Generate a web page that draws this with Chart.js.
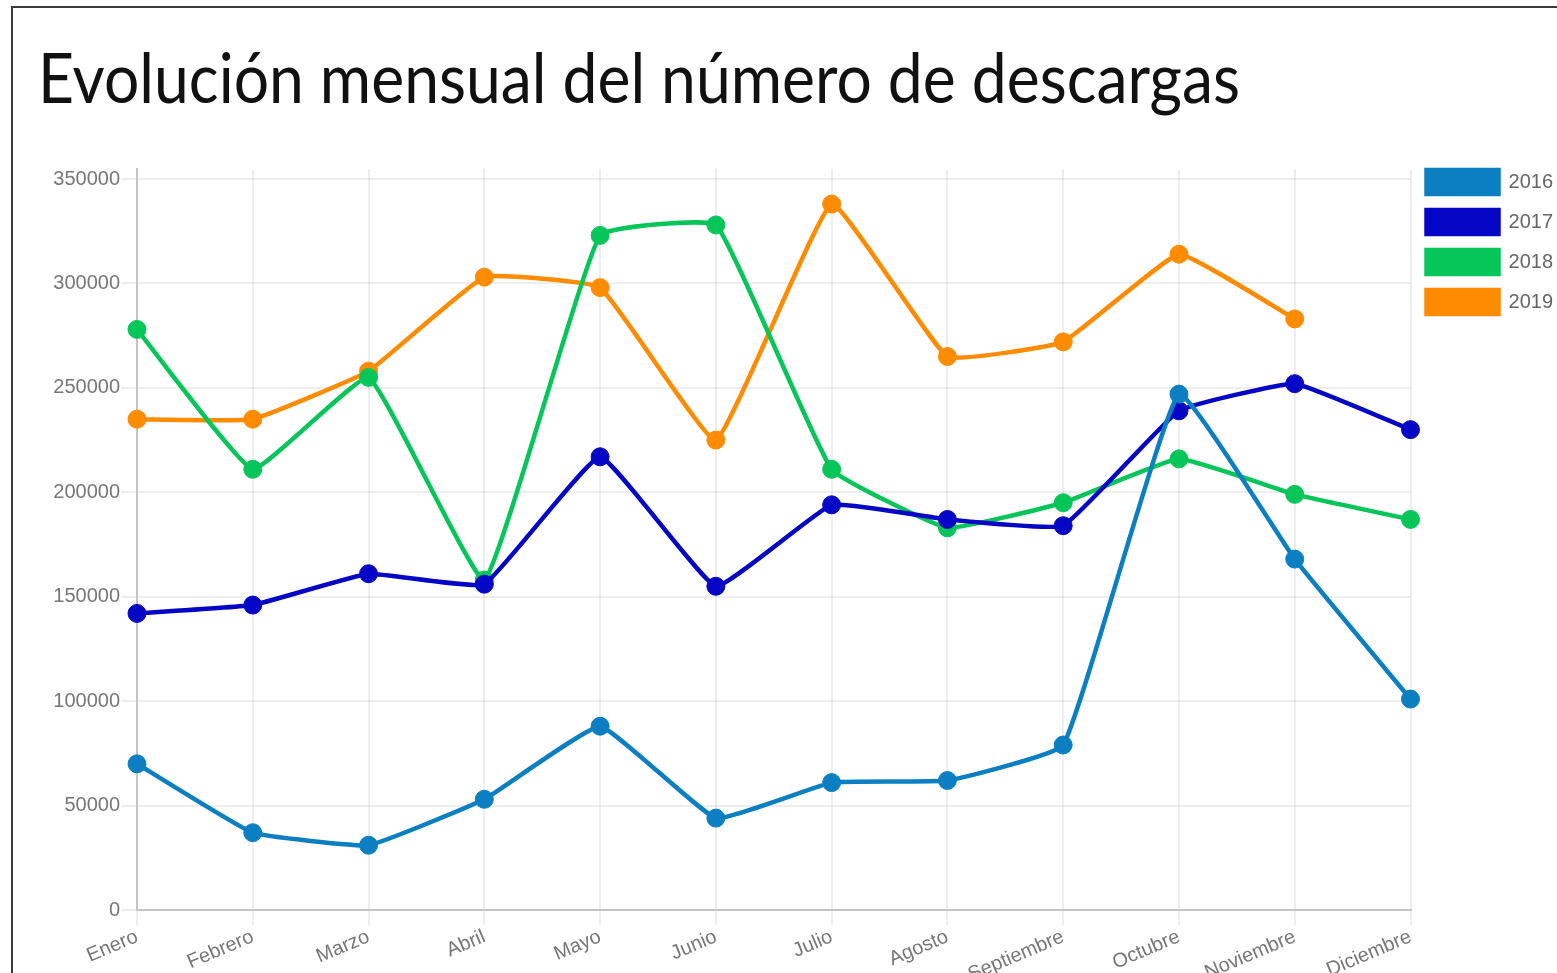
<!DOCTYPE html>
<html>
<head>
<meta charset="utf-8">
<script src="https://cdn.jsdelivr.net/npm/chart.js@4/dist/chart.umd.min.js"></script>
<style>
html,body{margin:0;padding:0;background:#fff;overflow:hidden;width:1557px;height:973px;}
#frame{position:absolute;left:11px;top:6px;width:1600px;height:1000px;border-top:2px solid #3a3a3a;border-left:2px solid #3a3a3a;}
#title{position:absolute;left:38px;top:34px;font-family:Lato,'Open Sans',sans-serif;font-size:70px;line-height:84px;color:#111;white-space:nowrap;transform-origin:0 0;}
#c{position:absolute;left:0;top:0;}
</style>
</head>
<body>
<div id="frame"></div>
<div id="title">Evolución mensual del número de descargas</div>
<canvas id="c" width="1563" height="973"></canvas>
<script>
const months = ['Enero','Febrero','Marzo','Abril','Mayo','Junio','Julio','Agosto','Septiembre','Octubre','Noviembre','Diciembre'];
const seriesNames = ['2016','2017','2018','2019'];
const values2016 = [70000, 37000, 31000, 53000, 88000, 44000, 61000, 62000, 79000, 247000, 168000, 101000];
const values2017 = [142000, 146000, 161000, 156000, 217000, 155000, 194000, 187000, 184000, 239000, 252000, 230000];
const values2018 = [278000, 211000, 255000, 158000, 323000, 328000, 211000, 183000, 195000, 216000, 199000, 187000];
const values2019 = [235000, 235000, 258000, 303000, 298000, 225000, 338000, 265000, 272000, 314000, 283000, null];
const yTickValues = [0, 50000, 100000, 150000, 200000, 250000, 300000, 350000];
const seriesColors = ['#0b7fc2', '#0606c6', '#06c65a', '#ff8b00'];

// fit title width
const t = document.getElementById('title');
const w = t.getBoundingClientRect().width;
t.style.transform = 'scaleX(' + (1202 / w) + ')';

const legendShift = {
  id: 'legendShift',
  afterLayout(chart) {
    const lg = chart.legend;
    if (lg) { lg.top -= 15; lg.bottom -= 15; }
  }
};

const allValues = [values2016, values2017, values2018, values2019];
const tickFont = { family: "'Liberation Sans', Arial, sans-serif", size: 20 };

new Chart(document.getElementById('c'), {
  type: 'line',
  data: {
    labels: months,
    datasets: seriesNames.map((name, i) => ({
      label: name,
      data: allValues[i],
      borderColor: seriesColors[i],
      backgroundColor: seriesColors[i],
      pointBackgroundColor: seriesColors[i],
      pointBorderColor: seriesColors[i],
      borderWidth: 4.5,
      pointRadius: 9,
      pointBorderWidth: 1,
      tension: 0.1,
      fill: false,
      spanGaps: false
    }))
  },
  options: {
    responsive: false,
    animation: false,
    layout: { padding: { top: 169, left: 0, right: 0, bottom: 0 } },
    plugins: {
      legend: {
        position: 'right',
        align: 'start',
        labels: {
          boxWidth: 72,
          boxHeight: 24,
          padding: 16,
          color: '#666',
          font: tickFont
        }
      },
      tooltip: { enabled: false }
    },
    scales: {
      x: {
        offset: false,
        grid: { color: 'rgba(0,0,0,0.065)', lineWidth: 2, tickLength: 15 },
        border: { color: '#c4c4c4', width: 2 },
        ticks: { color: '#777', font: tickFont, minRotation: 23, maxRotation: 23, padding: 0, autoSkip: false },
        afterFit(scale) { scale.height = 63; }
      },
      y: {
        min: 0,
        max: 354788,
        grid: { color: 'rgba(0,0,0,0.065)', lineWidth: 2, tickLength: 16 },
        border: { color: '#c4c4c4', width: 2 },
        ticks: { color: '#777', font: tickFont, padding: 1, callback: v => String(v) },
        afterBuildTicks(scale) { scale.ticks = yTickValues.map(v => ({ value: v })); },
        afterFit(scale) { scale.width = 137; }
      }
    }
  },
  plugins: [legendShift]
});
</script>
</body>
</html>
